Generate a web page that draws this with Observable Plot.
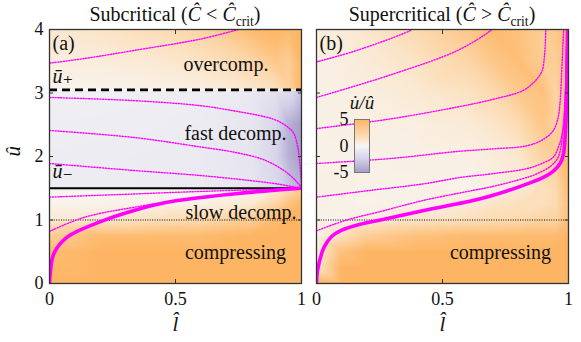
<!DOCTYPE html>
<html><head><meta charset="utf-8">
<script src="https://cdn.jsdelivr.net/npm/d3@7"></script>
<script src="https://cdn.jsdelivr.net/npm/@observablehq/plot@0.6"></script>
<style>
body{margin:0;background:#fff;}
#wrap{position:relative;width:581px;height:342px;font-family:"Liberation Serif","DejaVu Serif",serif;}
#wrap svg{position:absolute;overflow:visible;}
.ttl{position:absolute;top:2px;text-align:center;font-size:20px;line-height:24px;color:#111;white-space:nowrap;}
.ttl sub{font-size:0.68em;}
</style></head><body><div id="wrap"></div>
<script>
// ---------- data ----------
const uSlow = 1, uMinus = 1.5, uPlus = 3.05;
const xTicks = [0, 0.5, 1];
const yTicks = [0, 1, 2, 3, 4];
const cbTicks = [-5, 0, 5];

// heatmap u̇/û, panel (a): rows follow uA, columns follow lA
const lA = [0, 0.2, 0.4, 0.6, 0.8, 0.9, 0.95, 1];
const uA = [0, 0.5, 0.75, 1, 1.25, 1.49, 1.51, 2, 2.5, 3.04, 3.06, 3.5, 4];
const vA = [
  [5, 5, 5, 5, 5, 5, 5, 5],
  [4.5, 5, 5, 5, 5, 5, 5, 5],
  [3, 4.5, 4.5, 4.5, 5, 5, 5, 5],
  [0.8, 1, 1.5, 2, 3, 4.5, 5, 5],
  [0.3, 0.3, 0.4, 0.5, 0.9, 2.5, 4, 5],
  [0.1, 0.1, 0.1, 0.2, 0.3, 0.8, 2, 3],
  [-0.7, -0.7, -0.75, -0.85, -1.1, -1.8, -3, -4],
  [-0.7, -0.72, -0.75, -0.85, -1.2, -2.2, -4, -5],
  [-0.6, -0.62, -0.65, -0.75, -1.1, -2.1, -4, -5],
  [-0.5, -0.5, -0.55, -0.65, -0.9, -1.3, -1.5, -3],
  [0.3, 0.3, 0.4, 0.6, 1, 1.5, 2.5, 5],
  [0.6, 0.7, 0.9, 1.3, 2.3, 3.5, 3, 5],
  [1, 1.2, 1.6, 2.5, 4.5, 5, 4.5, 5]
];

// heatmap u̇/û, panel (b)
const lB = [0, 0.1, 0.2, 0.4, 0.6, 0.7, 0.8, 0.9, 0.95, 1];
const uB = [0, 0.25, 0.5, 0.75, 1, 1.25, 1.5, 2, 2.5, 3, 3.5, 4];
const vB = [
  [5, 5, 5, 5, 5, 5, 5, 5, 5, 5],
  [1, 5, 5, 5, 5, 5, 5, 5, 5, 5],
  [0.4, 4, 5, 5, 5, 5, 5, 5, 5, 5],
  [0.3, 1.5, 3, 4, 4.5, 4.5, 4.5, 4.5, 4.5, 5],
  [0.4, 0.3, 0.6, 1.2, 1.5, 1.8, 2, 2.5, 2.5, 4],
  [0.45, 0.4, 0.3, 0.4, 0.8, 1.2, 1.5, 1.5, 2, 4],
  [0.45, 0.45, 0.4, 0.4, 0.3, 0.5, 0.8, 1.5, 2, 4.5],
  [0.4, 0.4, 0.4, 0.45, 0.5, 0.7, 1, 2.5, 3, 5],
  [0.4, 0.45, 0.5, 0.6, 0.8, 1.1, 1.8, 3.5, 2.5, 4],
  [0.45, 0.5, 0.6, 0.9, 1.3, 2, 3.3, 4, 2.5, 4],
  [0.5, 0.6, 0.8, 1.3, 2.3, 3.5, 4.2, 3, 3, 4],
  [0.6, 0.8, 1.1, 2, 3.5, 4.5, 4, 3, 3.5, 4.5]
];

// trajectories [l̂, û]
const trajA = [
  [[0,3.47],[0.15,3.55],[0.335,3.67],[0.6,3.85],[0.75,4.0]],
  [[0,2.93],[0.335,2.88],[0.6,2.8],[0.73,2.72],[0.85,2.63],[0.9,2.57],[0.95,2.45],[0.97,2.36],[0.985,2.15],[0.993,1.9],[0.998,1.65],[1,1.5]],
  [[0,2.41],[0.335,2.3],[0.6,2.15],[0.73,2.07],[0.85,1.95],[0.93,1.78],[0.97,1.65],[1,1.51]],
  [[0,1.89],[0.335,1.78],[0.6,1.7],[0.8,1.62],[0.9,1.57],[1,1.5]],
  [[0,1.36],[0.335,1.41],[0.6,1.45],[1,1.5]],
  [[0,0.82],[0.136,1.04],[0.335,1.2],[0.6,1.36],[0.8,1.44],[1,1.5]]
];
const sepA = [[0,0],[0.004,0.2],[0.017,0.47],[0.07,0.73],[0.2,0.97],[0.335,1.15],[0.467,1.28],[0.73,1.41],[1,1.5]];

const trajB = [
  [[0,3.49],[0.16,3.67],[0.37,3.98],[0.385,4.02]],
  [[0,2.93],[0.29,3.28],[0.56,3.67],[0.69,3.98],[0.7,4.02]],
  [[0,2.44],[0.29,2.59],[0.56,2.78],[0.7,2.9],[0.82,3.04],[0.87,3.2],[0.895,3.35],[0.905,3.6],[0.91,4.0]],
  [[0,1.89],[0.3,1.97],[0.56,2.08],[0.7,2.12],[0.836,2.17],[0.9,2.27],[0.94,2.41],[0.958,2.6],[0.966,2.83],[0.975,3.51],[0.981,4.0]],
  [[0,1.36],[0.2,1.46],[0.426,1.57],[0.571,1.67],[0.7,1.73],[0.836,1.81],[0.9,1.9],[0.94,1.99],[0.96,2.15],[0.975,2.36],[0.988,3.09],[0.992,4.0]],
  [[0,0.83],[0.12,1.0],[0.25,1.13],[0.426,1.31],[0.6,1.45],[0.69,1.52],[0.8,1.63],[0.87,1.72],[0.93,1.85],[0.96,2.0],[0.978,2.4],[0.988,3],[0.994,4.0]]
];
const sepB = [[0,0],[0.004,0.2],[0.03,0.57],[0.06,0.74],[0.1,0.84],[0.17,0.93],[0.254,1.0],[0.426,1.15],[0.625,1.31],[0.75,1.45],[0.823,1.55],[0.9,1.67],[0.94,1.77],[0.968,1.9],[0.98,2.04],[0.99,2.57],[0.995,3.62],[0.997,4.0]];

// annotations
const annotA = [
  {l:0.70, u:3.45, t:"overcomp."},
  {l:0.738, u:2.36, t:"fast decomp."},
  {l:0.76, u:1.11, t:"slow decomp."},
  {l:0.738, u:0.49, t:"compressing"}
];
const annotB = [{l:0.73, u:0.49, t:"compressing"}];
const panelTags = ["(a)", "(b)"];
const barLabels = [{u:3.26, t:"ū₊"}, {u:1.76, t:"ū₋"}];

// ---------- helpers ----------
function grid(ls, us, vs) {
  const out = [];
  us.forEach((u, i) => ls.forEach((l, j) => out.push({l, u, v: vs[i][j]})));
  return out;
}
const serif = '"Liberation Serif","DejaVu Serif",serif';
const color = {type: "linear", domain: [-5, -2.5, 0, 1.5, 5],
  range: ["#a49dc9", "#d3d0e7", "#f7f7f6", "#fce0bd", "#fdb563"], clamp: true};
const MAG = "#ff00ff";
const fmt = d => String(d);

function panel(opts) {
  const {data, traj, sep, annot, tag, left, width, mL, mR, showY, extra} = opts;
  const marks = [
    Plot.raster(data, {x: "l", y: "u", fill: "v", interpolate: "barycentric", x1: 0, x2: 1, y1: 0, y2: 4}),
    Plot.ruleY([uSlow], {stroke: "#000", strokeWidth: 1, strokeDasharray: "1,1.4"}),
    ...(extra || []),
    ...traj.map(t => Plot.line(t, {stroke: MAG, strokeWidth: 1.4, strokeDasharray: "1.2,1.6", curve: "catmull-rom", clip: true})),
    Plot.line(sep, {stroke: MAG, strokeWidth: 3.6, curve: "catmull-rom", clip: true}),
    Plot.text(annot, {x: "l", y: "u", text: "t", fontSize: 20, fill: "#111", textAnchor: "middle"}),
    Plot.text([tag], {frameAnchor: "top-left", dx: 3, dy: 14, lineAnchor: "middle", fontSize: 20, fill: "#111", textAnchor: "start"}),
    Plot.frame({stroke: "#333", strokeWidth: 1.3}),
    Plot.axisX({ticks: xTicks, tickSize: 0, tickPadding: 9, tickFormat: fmt, label: null, fontSize: 18}),
    Plot.axisX({ticks: xTicks, tickSize: -4, tickFormat: () => "", label: null, stroke: "#333"}),
    Plot.axisX({anchor: "top", ticks: xTicks, tickSize: -4, tickFormat: () => "", label: null, stroke: "#333"}),
    Plot.axisY({ticks: yTicks, tickSize: -4, tickFormat: () => "", label: null, stroke: "#333"}),
    Plot.axisY({anchor: "right", ticks: yTicks, tickSize: -4, tickFormat: () => "", label: null, stroke: "#333"}),
    Plot.text(["l̂"], {frameAnchor: "bottom", dy: 41, lineAnchor: "middle", fontSize: 21, fontStyle: "italic", fill: "#111"})
  ];
  if (showY) {
    marks.push(Plot.axisY({ticks: yTicks, tickSize: 0, tickPadding: 6, tickFormat: fmt, label: null, fontSize: 18}));
    marks.push(Plot.text(["û"], {frameAnchor: "left", dx: -36, rotate: -90, lineAnchor: "middle", fontSize: 21, fontStyle: "italic", fill: "#111"}));
  }
  const svg = Plot.plot({
    width, height: 342, marginLeft: mL, marginRight: mR, marginTop: 29, marginBottom: 59,
    style: {fontFamily: serif, fontSize: "18px", background: "transparent", color: "#111", overflow: "visible"},
    x: {domain: [0, 1]}, y: {domain: [0, 4]}, color, marks
  });
  svg.style.left = left + "px"; svg.style.top = "0px";
  return svg;
}

const wrap = document.getElementById("wrap");
wrap.appendChild(panel({
  data: grid(lA, uA, vA), traj: trajA, sep: sepA, annot: annotA, tag: panelTags[0],
  left: 0, width: 308, mL: 49, mR: 7, showY: true,
  extra: [
    Plot.ruleY([uMinus], {stroke: "#000", strokeWidth: 2}),
    Plot.ruleY([uPlus], {stroke: "#000", strokeWidth: 2.6, strokeDasharray: "8,5"}),
    Plot.text(barLabels, {x: 0, y: "u", text: "t", dx: 3, textAnchor: "start", fontSize: 20, fontStyle: "italic", fill: "#111"})
  ]
}));
wrap.appendChild(panel({
  data: grid(lB, uB, vB), traj: trajB, sep: sepB, annot: annotB, tag: panelTags[1],
  left: 308, width: 273, mL: 8, mR: 13, showY: false
}));

// colour bar
const cb = Plot.plot({
  width: 60, height: 92, marginLeft: 34, marginRight: 11, marginTop: 31, marginBottom: 8,
  style: {fontFamily: serif, fontSize: "18px", background: "transparent", color: "#111", overflow: "visible"},
  x: {domain: [0, 1], axis: null}, y: {domain: [-5, 5]}, color,
  marks: [
    Plot.raster({fill: (x, y) => y, x1: 0, x2: 1, y1: -5, y2: 5}),
    Plot.frame({stroke: "#777"}),
    Plot.axisY({ticks: cbTicks, tickSize: 0, tickPadding: 6, label: null, fontSize: 18, tickFormat: d => d < 0 ? "-" + (-d) : String(d)}),
    Plot.text(["u̇/û"], {frameAnchor: "top", dy: -17, lineAnchor: "middle", fontSize: 19, fontStyle: "italic", fill: "#111"})
  ]
});
cb.style.left = "320px"; cb.style.top = "88px";
wrap.appendChild(cb);

// titles
const t1 = document.createElement("div");
t1.className = "ttl"; t1.style.left = "49px"; t1.style.width = "252px";
t1.innerHTML = 'Subcritical (<i>Ĉ</i> &lt; <i>Ĉ</i><sub>crit</sub>)';
const t2 = document.createElement("div");
t2.className = "ttl"; t2.style.left = "316px"; t2.style.width = "252px";
t2.innerHTML = 'Supercritical (<i>Ĉ</i> &gt; <i>Ĉ</i><sub>crit</sub>)';
wrap.appendChild(t1); wrap.appendChild(t2);
</script></body></html>
